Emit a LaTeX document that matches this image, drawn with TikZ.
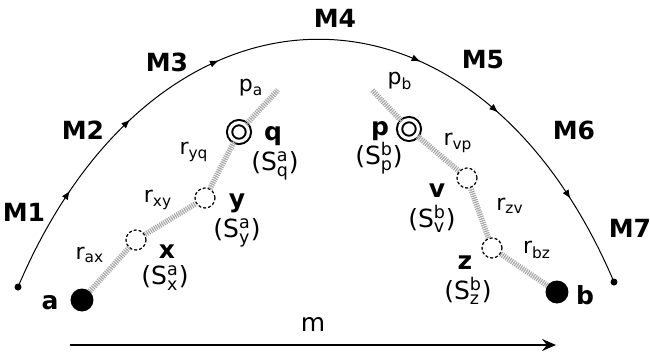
\documentclass[tikz,border=0pt]{standalone}
\usepackage{amsmath}
\usepackage{fontspec}
\setmainfont{DejaVu Sans}
\usetikzlibrary{arrows.meta,decorations.markings}

\begin{document}
\begin{tikzpicture}[x=0.5pt, y=-0.5pt, >=Stealth,
    mlab/.style={inner sep=0pt, font=\fontsize{12.5}{13}\selectfont\bfseries},
    nodelab/.style={inner sep=0pt, font=\fontsize{12.5}{13}\selectfont\bfseries},
    statelab/.style={inner sep=0pt, font=\fontsize{12.5}{13}\selectfont},
    distlab/.style={inner sep=0pt, font=\fontsize{11}{12}\selectfont},
    enddot/.style={circle, fill, inner sep=0pt, minimum size=3.5pt},
    bigdot/.style={circle, fill, inner sep=0pt, minimum size=11.5pt},
    site/.style={circle, draw, fill=white, inner sep=0pt, minimum size=10pt,
        line width=0.6pt, dash pattern=on 1.5pt off 1pt},
    fixed/.style={circle, draw, double, line width=1pt, double distance=1.6pt,
        inner sep=0pt, minimum size=9.4pt},
    spring/.style={line width=2.8pt, draw=gray!70, dash pattern=on 0.55pt off 0.55pt,
        preaction={draw=gray!20, solid}},
    walk/.style={line width=0.5pt, postaction={decorate}, decoration={markings,
        mark=at position 0.134 with {\arrow{Latex[length=4.5pt,width=3.5pt]}},
        mark=at position 0.248 with {\arrow{Latex[length=4.5pt,width=3.5pt]}},
        mark=at position 0.379 with {\arrow{Latex[length=4.5pt,width=3.5pt]}},
        mark=at position 0.633 with {\arrow{Latex[length=4.5pt,width=3.5pt]}},
        mark=at position 0.747 with {\arrow{Latex[length=4.5pt,width=3.5pt]}},
        mark=at position 0.885 with {\arrow{Latex[length=4.5pt,width=3.5pt]}}}}]
    \useasboundingbox (0,0) rectangle (650,354);

    \node[enddot] (start) at (18,287) {};
    \node[enddot] (stop) at (614,282) {};
    \draw[walk] (start.center) .. controls (157,-40) and (475,-45) .. (stop.center);

    \node[mlab] (M1) at (24,212) {M1};
    \node[mlab] (M2) at (83,130) {M2};
    \node[mlab] (M3) at (167,62) {M3};
    \node[mlab] (M4) at (335,18) {M4};
    \node[mlab] (M5) at (483,60) {M5};
    \node[mlab] (M6) at (574,130) {M6};
    \node[mlab] (M7) at (630,228) {M7};

    \node[bigdot] (a) at (82,300) {};
    \node[site] (x) at (136,240) {};
    \node[site] (y) at (205,198) {};
    \node[fixed] (q) at (239,132) {};
    \coordinate (qend) at (278,90);

    \node[bigdot] (b) at (557,292) {};
    \node[site] (z) at (492,248) {};
    \node[site] (v) at (467,178) {};
    \node[fixed] (p) at (409,129) {};
    \coordinate (pend) at (372,90);

    \draw[spring] (a) -- (x);
    \draw[spring] (x) -- (y);
    \draw[spring] (y) -- (q);
    \draw[spring] (q) -- (qend);
    \draw[spring] (b) -- (z);
    \draw[spring] (z) -- (v);
    \draw[spring] (v) -- (p);
    \draw[spring] (p) -- (pend);

    \node[nodelab] (la) at (50,303) {a};
    \node[nodelab] (lx) at (167,252) {x};
    \node[statelab] (sx) at (165,278) {(S$^{\text{a}}_{\text{x}}$)};
    \node[nodelab] (ly) at (237,203) {y};
    \node[statelab] (sy) at (237,233) {(S$^{\text{a}}_{\text{y}}$)};
    \node[nodelab] (lq) at (273,136) {q};
    \node[statelab] (sq) at (275,166) {(S$^{\text{a}}_{\text{q}}$)};
    \node[distlab] (rax) at (90,255) {r$_{\text{ax}}$};
    \node[distlab] (rxy) at (158,200) {r$_{\text{xy}}$};
    \node[distlab] (ryq) at (194,152) {r$_{\text{yq}}$};
    \node[distlab] (pa) at (251,88) {p$_{\text{a}}$};

    \node[nodelab] (lb) at (585,295) {b};
    \node[nodelab] (lz) at (465,263) {z};
    \node[statelab] (sz) at (468,291) {(S$^{\text{b}}_{\text{z}}$)};
    \node[nodelab] (lv) at (437,191) {v};
    \node[statelab] (sv) at (432,219) {(S$^{\text{b}}_{\text{v}}$)};
    \node[nodelab] (lp) at (380,131) {p};
    \node[statelab] (sp) at (379,158) {(S$^{\text{b}}_{\text{p}}$)};
    \node[distlab] (rbz) at (537,250) {r$_{\text{bz}}$};
    \node[distlab] (rzv) at (510,206) {r$_{\text{zv}}$};
    \node[distlab] (rvp) at (458,143) {r$_{\text{vp}}$};
    \node[distlab] (pb) at (400,81) {p$_{\text{b}}$};

    \coordinate (mfrom) at (70,345);
    \coordinate (mto) at (556,345);
    \draw[line width=1pt, -{Stealth[length=7pt,width=6pt,inset=2.5pt]}] (mfrom) -- (mto)
        node[midway, above=3pt, font=\fontsize{12.5}{13}\selectfont] {m};
\end{tikzpicture}
\end{document}
